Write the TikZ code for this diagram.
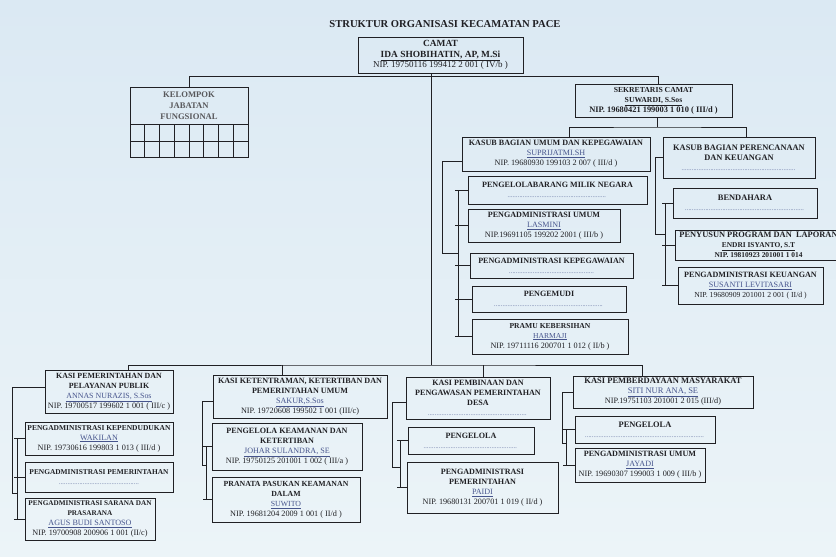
\documentclass[tikz,border=0pt]{standalone}
\usepackage{fontspec}
\setmainfont{Liberation Serif}
\definecolor{bgtop}{RGB}{219,233,243}
\definecolor{bgbot}{RGB}{236,244,248}
\definecolor{ink}{RGB}{32,32,36}
\definecolor{namec}{RGB}{70,84,140}
\newcommand\nipsz{8.2}
\newcommand\Nm[1]{\textcolor{namec}{\underline{#1}}}
\newcommand\Nmb[1]{\textbf{\underline{#1}}}
\newcommand\Nip[1]{{\fontsize{\nipsz}{10}\selectfont #1}}
\newcommand\Dotl[1]{\textcolor{namec}{\makebox[#1]{\fontsize{6}{6}\selectfont\leaders\hbox to 1.7pt{\hss.\hss}\hfill}}}
\newcommand\Hd[1]{\textbf{#1}}
\newcommand\FS[1]{\fontsize{#1}{10}\selectfont}
\newcommand\OB[7][]{\node[bx, #1, minimum width={#5pt-#3pt}, minimum height={#6pt-#4pt}] (#2) at ({(#3+#5)/2},{(#4+#6)/2}) {#7};}
\tikzset{
  bx/.style={draw=ink, line width=0.9pt, inner sep=1pt, align=center, text=ink,
    font=\fontsize{8.1}{10}\selectfont},
  ln/.style={draw=ink, line width=0.8pt},
}
\begin{document}
\begin{tikzpicture}[x=1pt,y=-1pt]
\useasboundingbox (0,0) rectangle (836,557);
\shade[top color=bgtop, bottom color=bgbot] (0,0) rectangle (836,557);

\node[font=\bfseries\fontsize{10.6}{12}\selectfont, text=ink] (title) at (445,24) {STRUKTUR ORGANISASI KECAMATAN PACE};

% top level
\OB[font=\renewcommand\nipsz{9}\fontsize{9.4}{10.8}\selectfont]{camat}{358}{37}{523}{73}{\Hd{CAMAT}\\ \Nmb{IDA SHOBIHATIN, AP, M.Si}\\ \Nip{NIP. 19750116 199412 2 001 ( IV/b )}}
\OB{kel}{130}{87}{248}{157}{}
\node[font=\bfseries\fontsize{8.6}{11}\selectfont, text=ink!75, align=center] (keltext) at (189,106) {KELOMPOK\\ JABATAN\\ FUNGSIONAL};
\draw[ln] (130,124) -- (248,124);
\draw[ln] (130,141) -- (248,141);
\foreach \x in {144.75,159.5,174.25,189,203.75,218.5,233.25} \draw[ln] (\x,124) -- (\x,157);
\OB[font=\renewcommand\nipsz{8.4}\FS{7.7}]{sek}{575}{84}{732}{117}{\Hd{SEKRETARIS CAMAT}\\ \Nmb{SUWARDI, S.Sos}\\ \Nip{\textbf{NIP. 19680421 199003 1 010 ( III/d )}}}

% sekretariat - umum
\OB{ku}{462}{137}{650}{171}{\Hd{KASUB BAGIAN UMUM DAN KEPEGAWAIAN}\\ \Nm{SUPRIJATMI.SH}\\ \Nip{NIP. 19680930 199103 2 007 ( III/d )}}
\OB{pb}{468}{176}{647}{204}{\Hd{PENGELOLABARANG MILIK NEGARA}\\ \Dotl{100pt}}
\OB{pu}{468}{209}{620}{242}{\Hd{PENGADMINISTRASI UMUM}\\ \Nm{LASMINI}\\ \Nip{NIP.19691105 199202 2001 ( III/b )}}
\OB{pk}{470}{253}{633}{278}{\Hd{PENGADMINISTRASI KEPEGAWAIAN}\\ \Dotl{85pt}}
\OB{pm}{472}{286}{626}{312}{\Hd{PENGEMUDI}\\ \Dotl{110pt}}
\OB[font=\FS{7.6}]{pr}{472}{319}{628}{354}{\Hd{PRAMU KEBERSIHAN}\\ \Nm{HARMAJI}\\ \Nip{NIP. 19711116 200701 1 012 ( II/b )}}

% sekretariat - perencanaan
\OB[font=\FS{8.4}]{kp}{663}{137}{815}{178}{\Hd{KASUB BAGIAN PERENCANAAN}\\ \Hd{DAN KEUANGAN}\\ \Dotl{115pt}}
\OB[font=\FS{8.4}]{bd}{673}{188}{817}{218}{\Hd{BENDAHARA}\\ \Dotl{120pt}}
\OB[font=\renewcommand\nipsz{7.4}\FS{8.4}]{ps}{675}{230}{842}{260}{\Hd{PENYUSUN PROGRAM DAN\ \ LAPORAN}\\ {\FS{7.4}\Nmb{ENDRI ISYANTO, S.T}}\\ \Nip{\textbf{NIP. 19810923 201001 1 014}}}
\OB[font=\renewcommand\nipsz{7.7}\FS{8.1}]{kk}{678}{267}{823}{304}{\Hd{PENGADMINISTRASI KEUANGAN}\\ \Nm{SUSANTI LEVITASARI}\\ \Nip{NIP. 19680909 201001 2 001 ( II/d )}}

% bottom column 1
\OB[font=\FS{7.9}]{k1}{45}{370}{173}{413}{\Hd{KASI PEMERINTAHAN DAN}\\ \Hd{PELAYANAN PUBLIK}\\ \Nm{ANNAS NURAZIS, S.Sos}\\ \Nip{NIP. 19700517 199602 1 001 ( III/c )}}
\OB[font=\FS{7.5}]{a1}{25}{422}{173}{455}{\Hd{PENGADMINISTRASI KEPENDUDUKAN}\\ {\FS{8.1}\Nm{WAKILAN}}\\ \Nip{NIP. 19730616 199803 1 013 ( III/d )}}
\OB[font=\FS{7.4}]{a2}{25}{462}{173}{492}{\Hd{PENGADMINISTRASI PEMERINTAHAN}\\ \Dotl{80pt}}
\OB[font=\FS{7.2}]{a3}{25}{498}{155}{540}{\Hd{PENGADMINISTRASI SARANA DAN}\\ \Hd{PRASARANA}\\ {\FS{8.1}\Nm{AGUS BUDI SANTOSO}}\\ \Nip{NIP. 19700908 200906 1 001 (II/c)}}

% bottom column 2
\OB{k2}{213}{375}{387}{418}{\Hd{KASI KETENTRAMAN, KETERTIBAN DAN}\\ \Hd{PEMERINTAHAN UMUM}\\ \Nm{SAKUR,S.Sos}\\ \Nip{NIP. 19720608 199502 1 001 (III/c)}}
\OB{b1}{212}{423}{362}{470}{\Hd{PENGELOLA KEAMANAN DAN}\\ \Hd{KETERTIBAN}\\ \Nm{JOHAR SULANDRA, SE}\\ \Nip{NIP. 19750125 201001 1 002 ( III/a )}}
\OB[font=\FS{7.8}]{b2}{212}{477}{360}{522}{\Hd{PRANATA PASUKAN KEAMANAN}\\ \Hd{DALAM}\\ \Nm{SUWITO}\\ \Nip{NIP. 19681204 2009 1 001 ( II/d )}}

% bottom column 3
\OB{k3}{406}{377}{550}{419}{\Hd{KASI PEMBINAAN DAN}\\ \Hd{PENGAWASAN PEMERINTAHAN}\\ \Hd{DESA}\\ \Dotl{100pt}}
\OB{c1}{408}{427}{534}{454}{\Hd{PENGELOLA}\\ \Dotl{95pt}}
\OB{c2}{407}{462}{558}{513}{\Hd{PENGADMINISTRASI}\\ \Hd{PEMERINTAHAN}\\ \Nm{PAIDI}\\ \Nip{NIP. 19680131 200701 1 019 ( II/d )}}

% bottom column 4
\OB[font=\FS{8.5}]{k4}{573}{376}{753}{408}{\Hd{KASI PEMBERDAYAAN MASYARAKAT}\\ \Nm{SITI NUR ANA, SE}\\ \Nip{NIP.19751103 201001 2 015 (III/d)}}
\OB[font=\FS{8.4}]{d1}{575}{416}{715}{443}{\Hd{PENGELOLA}\\ \Dotl{120pt}}
\OB{d2}{575}{448}{705}{482}{\Hd{PENGADMINISTRASI UMUM}\\ \Nm{JAYADI}\\ \Nip{NIP. 19690307 199003 1 009 ( III/b )}}

% junction coordinates
\coordinate (vt) at ([xshift=-9.5pt]camat.south);
\coordinate (bb) at (431,365);
\coordinate (sj) at (657,127);
\coordinate (ja1) at (442,253); \coordinate (spA) at (458,253);
\coordinate (jb1) at (655,234); \coordinate (spB) at (665,234);
\coordinate (jc1) at (12,493);  \coordinate (spC) at (17,493);
\coordinate (jd1) at (202,465); \coordinate (spD) at (206,465);
\coordinate (je1) at (392,467); \coordinate (spE) at (400,467);
\coordinate (jf1) at (562,443); \coordinate (spF) at (566,443);

% top connectors
\draw[ln] (kel.north) -- ++(0,-10) -| ([xshift=4.5pt]sek.north);
\draw[ln] (vt) -- (bb);
\draw[ln] ([xshift=19pt]k1.north) |- (bb) -| ([xshift=-21pt]k4.north);
\draw[ln] ([xshift=-18pt]k2.north) -- ([xshift=-18pt]k2.north |- bb);
\draw[ln] ([xshift=5pt]k3.north) -- ([xshift=5pt]k3.north |- bb);

% sekretaris split
\draw[ln] (sek.south -| sj) -- (sj);
\draw[ln] ([xshift=13pt]ku.north) |- (sj) -| ([xshift=7pt]kp.north);

% umum bracket
\draw[ln] ([yshift=-7pt]ku.west) -| (ja1) -- (spA);
\draw[ln] (pb.west -| spA) -- (pr.west -| spA);
\foreach \n in {pb,pu,pk,pm,pr} \draw[ln] ([xshift=-3pt]\n.west -| spA) -- (\n.west);

% perencanaan bracket
\draw[ln] (kp.west) -| (jb1) -- (spB);
\draw[ln] (bd.west -| spB) -- (kk.west -| spB);
\foreach \n in {bd,ps,kk} \draw[ln] ([xshift=-3pt]\n.west -| spB) -- (\n.west);

% bottom brackets
\draw[ln] ([yshift=4pt]k1.west) -| (jc1) -- (spC);
\draw[ln] (a1.west -| spC) -- (a3.west -| spC);
\foreach \n in {a1,a2,a3} \draw[ln] ([xshift=-3pt]\n.west -| spC) -- (\n.west);

\draw[ln] ([yshift=-5pt]k2.west) -| (jd1) -- (spD);
\draw[ln] (b1.west -| spD) -- (b2.west -| spD);
\foreach \n in {b1,b2} \draw[ln] ([xshift=-3pt]\n.west -| spD) -- (\n.west);

\draw[ln] ([yshift=-4pt]k3.west) -| (je1) -- (spE);
\draw[ln] (c1.west -| spE) -- (c2.west -| spE);
\foreach \n in {c1,c2} \draw[ln] ([xshift=-3pt]\n.west -| spE) -- (\n.west);

\draw[ln] (k4.west) -| (jf1) -- (spF);
\draw[ln] (d1.west -| spF) -- (d2.west -| spF);
\foreach \n in {d1,d2} \draw[ln] ([xshift=-3pt]\n.west -| spF) -- (\n.west);
\end{tikzpicture}
\end{document}
